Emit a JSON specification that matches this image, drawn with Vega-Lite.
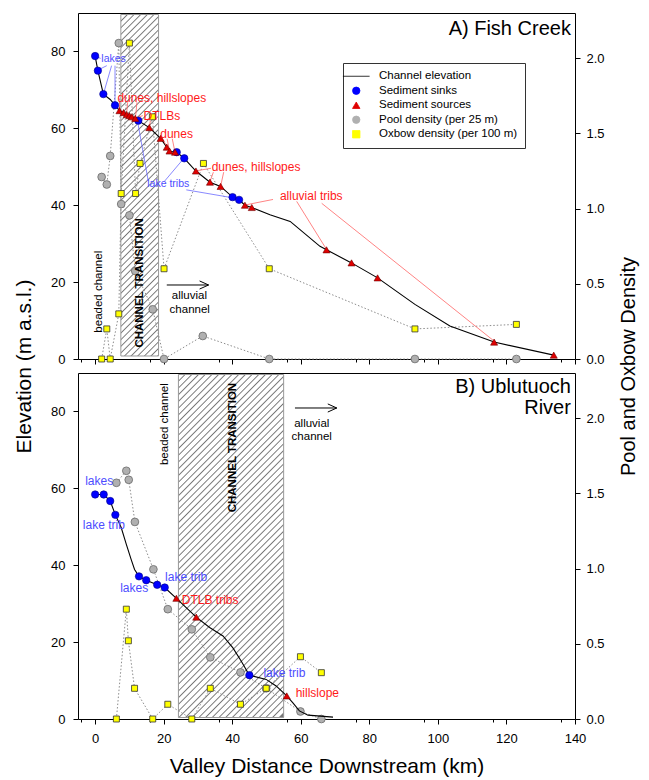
{
"$schema":"https://vega.github.io/schema/vega-lite/v6.json",
"background":"white",
"padding":{"left":13,"top":12,"right":5,"bottom":5},
"spacing":14,
"bounds":"flush",
"config":{"font":"Liberation Sans","view":{"stroke":"#000","strokeWidth":1},
 "axis":{"domain":false,"grid":false,"tickColor":"#000","labelColor":"#000","titleColor":"#000","labelFont":"Liberation Sans","titleFont":"Liberation Sans","labelFontSize":13,"titleFontWeight":"normal","tickWidth":1},
 "legend":{"strokeColor":"#333","strokeWidth":1,"fillColor":"white","padding":7.5}},
"resolve":{"scale":{"color":"independent","shape":"independent"},"legend":{"color":"independent","shape":"independent"}},
"vconcat":[
{"width":497,"height":346,
 "resolve":{"scale":{"y":"independent"},"axis":{"x":"independent"}},
 "layer":[
  {"layer":[
   {"data":{"values":[{"x":7.5,"x2":18.5,"d":0.02,"d2":2.29}]},
    "mark":{"type":"rect","stroke":"#999","strokeWidth":1,"fill":{"gradient":"linear","x1":0,"y1":0,"x2":0.1213,"y2":1.0972,"stops":[
{"offset":0,"color":"#777"},{"offset":0.0035,"color":"#fff"},{"offset":0.014,"color":"#fff"},
{"offset":0.0175,"color":"#777"},{"offset":0.021,"color":"#fff"},{"offset":0.0315,"color":"#fff"},
{"offset":0.035,"color":"#777"},{"offset":0.0385,"color":"#fff"},{"offset":0.049,"color":"#fff"},
{"offset":0.0525,"color":"#777"},{"offset":0.056,"color":"#fff"},{"offset":0.0665,"color":"#fff"},
{"offset":0.07,"color":"#777"},{"offset":0.0735,"color":"#fff"},{"offset":0.084,"color":"#fff"},
{"offset":0.0875,"color":"#777"},{"offset":0.091,"color":"#fff"},{"offset":0.1015,"color":"#fff"},
{"offset":0.105,"color":"#777"},{"offset":0.1085,"color":"#fff"},{"offset":0.119,"color":"#fff"},
{"offset":0.1225,"color":"#777"},{"offset":0.126,"color":"#fff"},{"offset":0.1365,"color":"#fff"},
{"offset":0.14,"color":"#777"},{"offset":0.1435,"color":"#fff"},{"offset":0.154,"color":"#fff"},
{"offset":0.1575,"color":"#777"},{"offset":0.161,"color":"#fff"},{"offset":0.1715,"color":"#fff"},
{"offset":0.175,"color":"#777"},{"offset":0.1785,"color":"#fff"},{"offset":0.189,"color":"#fff"},
{"offset":0.1925,"color":"#777"},{"offset":0.196,"color":"#fff"},{"offset":0.2065,"color":"#fff"},
{"offset":0.21,"color":"#777"},{"offset":0.2135,"color":"#fff"},{"offset":0.224,"color":"#fff"},
{"offset":0.2275,"color":"#777"},{"offset":0.231,"color":"#fff"},{"offset":0.2415,"color":"#fff"},
{"offset":0.245,"color":"#777"},{"offset":0.2485,"color":"#fff"},{"offset":0.259,"color":"#fff"},
{"offset":0.2625,"color":"#777"},{"offset":0.266,"color":"#fff"},{"offset":0.2765,"color":"#fff"},
{"offset":0.28,"color":"#777"},{"offset":0.2835,"color":"#fff"},{"offset":0.294,"color":"#fff"},
{"offset":0.2975,"color":"#777"},{"offset":0.301,"color":"#fff"},{"offset":0.3115,"color":"#fff"},
{"offset":0.315,"color":"#777"},{"offset":0.3185,"color":"#fff"},{"offset":0.329,"color":"#fff"},
{"offset":0.3325,"color":"#777"},{"offset":0.336,"color":"#fff"},{"offset":0.3465,"color":"#fff"},
{"offset":0.35,"color":"#777"},{"offset":0.3535,"color":"#fff"},{"offset":0.364,"color":"#fff"},
{"offset":0.3675,"color":"#777"},{"offset":0.371,"color":"#fff"},{"offset":0.3815,"color":"#fff"},
{"offset":0.385,"color":"#777"},{"offset":0.3885,"color":"#fff"},{"offset":0.399,"color":"#fff"},
{"offset":0.4025,"color":"#777"},{"offset":0.406,"color":"#fff"},{"offset":0.4165,"color":"#fff"},
{"offset":0.42,"color":"#777"},{"offset":0.4235,"color":"#fff"},{"offset":0.434,"color":"#fff"},
{"offset":0.4375,"color":"#777"},{"offset":0.441,"color":"#fff"},{"offset":0.4515,"color":"#fff"},
{"offset":0.455,"color":"#777"},{"offset":0.4585,"color":"#fff"},{"offset":0.469,"color":"#fff"},
{"offset":0.4725,"color":"#777"},{"offset":0.476,"color":"#fff"},{"offset":0.4865,"color":"#fff"},
{"offset":0.49,"color":"#777"},{"offset":0.4935,"color":"#fff"},{"offset":0.504,"color":"#fff"},
{"offset":0.5075,"color":"#777"},{"offset":0.511,"color":"#fff"},{"offset":0.5215,"color":"#fff"},
{"offset":0.525,"color":"#777"},{"offset":0.5285,"color":"#fff"},{"offset":0.539,"color":"#fff"},
{"offset":0.5425,"color":"#777"},{"offset":0.546,"color":"#fff"},{"offset":0.5565,"color":"#fff"},
{"offset":0.56,"color":"#777"},{"offset":0.5635,"color":"#fff"},{"offset":0.574,"color":"#fff"},
{"offset":0.5775,"color":"#777"},{"offset":0.581,"color":"#fff"},{"offset":0.5915,"color":"#fff"},
{"offset":0.595,"color":"#777"},{"offset":0.5985,"color":"#fff"},{"offset":0.609,"color":"#fff"},
{"offset":0.6125,"color":"#777"},{"offset":0.616,"color":"#fff"},{"offset":0.6265,"color":"#fff"},
{"offset":0.63,"color":"#777"},{"offset":0.6335,"color":"#fff"},{"offset":0.644,"color":"#fff"},
{"offset":0.6475,"color":"#777"},{"offset":0.651,"color":"#fff"},{"offset":0.6615,"color":"#fff"},
{"offset":0.665,"color":"#777"},{"offset":0.6685,"color":"#fff"},{"offset":0.679,"color":"#fff"},
{"offset":0.6825,"color":"#777"},{"offset":0.686,"color":"#fff"},{"offset":0.6965,"color":"#fff"},
{"offset":0.7,"color":"#777"},{"offset":0.7035,"color":"#fff"},{"offset":0.714,"color":"#fff"},
{"offset":0.7175,"color":"#777"},{"offset":0.721,"color":"#fff"},{"offset":0.7315,"color":"#fff"},
{"offset":0.735,"color":"#777"},{"offset":0.7385,"color":"#fff"},{"offset":0.749,"color":"#fff"},
{"offset":0.7525,"color":"#777"},{"offset":0.756,"color":"#fff"},{"offset":0.7665,"color":"#fff"},
{"offset":0.77,"color":"#777"},{"offset":0.7735,"color":"#fff"},{"offset":0.784,"color":"#fff"},
{"offset":0.7875,"color":"#777"},{"offset":0.791,"color":"#fff"},{"offset":0.8015,"color":"#fff"},
{"offset":0.805,"color":"#777"},{"offset":0.8085,"color":"#fff"},{"offset":0.819,"color":"#fff"},
{"offset":0.8225,"color":"#777"},{"offset":0.826,"color":"#fff"},{"offset":0.8365,"color":"#fff"},
{"offset":0.84,"color":"#777"},{"offset":0.8435,"color":"#fff"},{"offset":0.854,"color":"#fff"},
{"offset":0.8575,"color":"#777"},{"offset":0.861,"color":"#fff"},{"offset":0.8715,"color":"#fff"},
{"offset":0.875,"color":"#777"},{"offset":0.8785,"color":"#fff"},{"offset":0.889,"color":"#fff"},
{"offset":0.8925,"color":"#777"},{"offset":0.896,"color":"#fff"},{"offset":0.9065,"color":"#fff"},
{"offset":0.91,"color":"#777"},{"offset":0.9135,"color":"#fff"},{"offset":0.924,"color":"#fff"},
{"offset":0.9275,"color":"#777"},{"offset":0.931,"color":"#fff"},{"offset":0.9415,"color":"#fff"},
{"offset":0.945,"color":"#777"},{"offset":0.9485,"color":"#fff"},{"offset":0.959,"color":"#fff"},
{"offset":0.9625,"color":"#777"},{"offset":0.966,"color":"#fff"},{"offset":0.9765,"color":"#fff"},
{"offset":0.98,"color":"#777"},{"offset":0.9835,"color":"#fff"},{"offset":0.994,"color":"#fff"},
{"offset":0.9975,"color":"#777"}]}},
    "encoding":{
     "x":{"field":"x","type":"quantitative","scale":{"domain":[-5,140],"nice":false,"zero":false},
      "axis":{"orient":"bottom","values":[0,20,40,60,80,100,120,140],"labels":false,"title":null,"tickSize":5}},
     "x2":{"field":"x2"},
     "y":{"field":"d","type":"quantitative","scale":{"domain":[0,2.3],"nice":false,"zero":false},
      "axis":{"orient":"right","values":[0,0.5,1,1.5,2],"format":".1f","tickSize":5,"labelPadding":6,"labelFontSize":13,"title":"Pool and Oxbow Density","titleFontSize":20,"titleAngle":270,"titleBaseline":"top","titlePadding":14,"titleY":353}},
     "y2":{"field":"d2"}}},
   {"data":{"values":[{"x":1.9,"d":1.21},{"x":3.4,"d":1.16},{"x":4.4,"d":1.35},{"x":6.9,"d":2.1},{"x":7.6,"d":1.03},{"x":10,"d":0.955},{"x":11.7,"d":0.585},{"x":16.8,"d":0.33},{"x":20.1,"d":0},{"x":31.4,"d":0.153},{"x":50.8,"d":0},{"x":93.3,"d":0},{"x":122.9,"d":0}]},
    "mark":{"type":"line","stroke":"#8c8c8c","strokeWidth":1,"strokeDash":[1.5,2]},
    "encoding":{"x":{"field":"x","type":"quantitative"},"y":{"field":"d","type":"quantitative"}}},
   {"data":{"values":[{"x":1.9,"d":0},{"x":3.4,"d":0.2},{"x":4.4,"d":0},{"x":6.9,"d":0.3},{"x":7.6,"d":1.1},{"x":10,"d":2.1},{"x":11.8,"d":1.1},{"x":13.1,"d":1.3},{"x":16.7,"d":1.61},{"x":20.1,"d":0.6},{"x":31.6,"d":1.3},{"x":50.8,"d":0.6},{"x":93.3,"d":0.2},{"x":122.9,"d":0.23}]},
    "mark":{"type":"line","stroke":"#8c8c8c","strokeWidth":1,"strokeDash":[1.5,2]},
    "encoding":{"x":{"field":"x","type":"quantitative"},"y":{"field":"d","type":"quantitative"}}},
   {"data":{"values":[{"x":1.9,"d":1.21},{"x":3.4,"d":1.16},{"x":4.4,"d":1.35},{"x":6.9,"d":2.1},{"x":7.6,"d":1.03},{"x":10,"d":0.955},{"x":11.7,"d":0.585},{"x":16.8,"d":0.33},{"x":20.1,"d":0},{"x":31.4,"d":0.153},{"x":50.8,"d":0},{"x":93.3,"d":0},{"x":122.9,"d":0}]},
    "mark":{"type":"point","filled":true,"opacity":1,"size":60,"stroke":"#6a6a6a","strokeWidth":0.8},
    "encoding":{"x":{"field":"x","type":"quantitative"},"y":{"field":"d","type":"quantitative"},
     "color":{"datum":"Pool density (per 25 m)","type":"nominal","scale":{"domain":["Channel elevation","Sediment sinks","Sediment sources","Pool density (per 25 m)","Oxbow density (per 100 m)"],"range":["#000000","#0000ff","#e00000","#b0b0b0","#ffff00"]},
      "legend":{"orient":"top-right","offset":50,"title":null,"labelFontSize":11.5,"labelFont":"Liberation Sans","labelColor":"#000","padding":7.5,"strokeColor":"#333","fillColor":"white","symbolSize":55,"symbolStrokeColor":"#222","symbolStrokeWidth":0.8,"labelOffset":17,"rowPadding":1.5}},
     "shape":{"datum":"Pool density (per 25 m)","type":"nominal","scale":{"domain":["Channel elevation","Sediment sinks","Sediment sources","Pool density (per 25 m)","Oxbow density (per 100 m)"],"range":["M-3.6,0H3.6","circle","triangle-up","circle","square"]},
      "legend":{"orient":"top-right","offset":50,"title":null,"labelFontSize":11.5,"labelFont":"Liberation Sans","labelColor":"#000","padding":7.5,"strokeColor":"#333","fillColor":"white","symbolSize":55,"symbolStrokeColor":"#222","symbolStrokeWidth":0.8,"labelOffset":17,"rowPadding":1.5}}}},
   {"data":{"values":[{"x":1.9,"d":0},{"x":3.4,"d":0.2},{"x":4.4,"d":0},{"x":6.9,"d":0.3},{"x":7.6,"d":1.1},{"x":10,"d":2.1},{"x":11.8,"d":1.1},{"x":13.1,"d":1.3},{"x":16.7,"d":1.61},{"x":20.1,"d":0.6},{"x":31.6,"d":1.3},{"x":50.8,"d":0.6},{"x":93.3,"d":0.2},{"x":122.9,"d":0.23}]},
    "mark":{"type":"point","filled":true,"opacity":1,"size":36,"stroke":"#333","strokeWidth":0.8},
    "encoding":{"x":{"field":"x","type":"quantitative"},"y":{"field":"d","type":"quantitative"},
     "color":{"datum":"Oxbow density (per 100 m)","type":"nominal"},
     "shape":{"datum":"Oxbow density (per 100 m)","type":"nominal"}}}
  ]},
  {"layer":[
   {"data":{"values":[{"x":0,"y":78.8},{"x":0.8,"y":75},{"x":2.4,"y":68.9},{"x":4.4,"y":67.5},{"x":5.8,"y":66},{"x":7.1,"y":64.6},{"x":8.3,"y":64.1},{"x":9.2,"y":63.6},{"x":10,"y":63.3},{"x":10.7,"y":63},{"x":11.7,"y":62.6},{"x":12.6,"y":62},{"x":15.8,"y":60.2},{"x":19.1,"y":57.4},{"x":20.9,"y":55.1},{"x":21.7,"y":54.1},{"x":23.3,"y":53.8},{"x":23.8,"y":53.8},{"x":26,"y":52.2},{"x":29.4,"y":48.9},{"x":33.5,"y":46},{"x":36.6,"y":44.9},{"x":40.1,"y":42.1},{"x":42,"y":41.4},{"x":43.7,"y":40},{"x":45.7,"y":39.4},{"x":51,"y":37.5},{"x":56.9,"y":35.8},{"x":65.6,"y":29.3},{"x":67.5,"y":28.4},{"x":74.8,"y":25},{"x":82.4,"y":21.1},{"x":93.3,"y":14.2},{"x":103.5,"y":8.6},{"x":116.4,"y":4.4},{"x":133.8,"y":1}]},
    "mark":{"type":"line","strokeWidth":1.1},
    "encoding":{"x":{"field":"x","type":"quantitative",
      "axis":{"orient":"bottom","values":[-4,4,8,12,16,24,28,32,36,44,48,52,56,64,68,72,76,84,88,92,96,104,108,112,116,124,128,132,136],"labels":false,"title":null,"tickSize":3}},
     "y":{"field":"y","type":"quantitative","scale":{"domain":[0,90],"nice":false,"zero":false},
      "axis":{"orient":"left","values":[0,20,40,60,80],"tickSize":5,"labelPadding":8,"labelFontSize":13,"title":"Elevation (m a.s.l.)","titleFontSize":21,"titlePadding":16,"titleY":353}},
     "color":{"datum":"Channel elevation","type":"nominal"}}},
   {"data":{"values":[{"x":1.6,"y":78.2,"x2":0.3,"y2":78.7},{"x":3.4,"y":76.3,"x2":0.9,"y2":75.2},{"x":4.8,"y":76.3,"x2":2.5,"y2":69.2},{"x":5.8,"y":76.3,"x2":5.8,"y2":66.4},{"x":15.5,"y":46.3,"x2":12.4,"y2":61.7},{"x":20.2,"y":46.2,"x2":25.7,"y2":52},{"x":26.6,"y":44,"x2":39.7,"y2":42}]},
    "mark":{"type":"rule","stroke":"#6b6bff","strokeWidth":0.8},
    "encoding":{"x":{"field":"x","type":"quantitative"},"y":{"field":"y","type":"quantitative"},"x2":{"field":"x2"},"y2":{"field":"y2"}}},
   {"data":{"values":[{"x":7.1,"y":66.8,"x2":7.1,"y2":65},{"x":9.5,"y":66.8,"x2":9.2,"y2":64},{"x":12.2,"y":66.8,"x2":11.8,"y2":63},{"x":13.9,"y":63.3,"x2":12.1,"y2":62.8},{"x":16.1,"y":62,"x2":15.9,"y2":60.7},{"x":19.6,"y":57.3,"x2":20.8,"y2":55.5},{"x":21,"y":57.3,"x2":21.6,"y2":54.5},{"x":22.5,"y":57.3,"x2":23.2,"y2":54.2},{"x":33.8,"y":49.6,"x2":29.8,"y2":49},{"x":34.5,"y":48.6,"x2":33.6,"y2":46.4},{"x":37.5,"y":48.6,"x2":36.7,"y2":45.3},{"x":51.9,"y":41.5,"x2":44,"y2":40.1},{"x":58.8,"y":41,"x2":67.3,"y2":28.8},{"x":66.1,"y":40.5,"x2":116.2,"y2":4.8}]},
    "mark":{"type":"rule","stroke":"#ff6464","strokeWidth":0.8},
    "encoding":{"x":{"field":"x","type":"quantitative"},"y":{"field":"y","type":"quantitative"},"x2":{"field":"x2"},"y2":{"field":"y2"}}},
   {"data":{"values":[{"x":0,"y":78.8},{"x":0.8,"y":75},{"x":2.4,"y":68.9},{"x":5.8,"y":66},{"x":12.6,"y":62},{"x":23.8,"y":53.8},{"x":26,"y":52.2},{"x":40.1,"y":42.1},{"x":42,"y":41.4}]},
    "mark":{"type":"point","filled":true,"opacity":1,"size":55,"stroke":"#00008a","strokeWidth":0.6},
    "encoding":{"x":{"field":"x","type":"quantitative"},"y":{"field":"y","type":"quantitative"},
     "color":{"datum":"Sediment sinks","type":"nominal"},"shape":{"datum":"Sediment sinks","type":"nominal"}}},
   {"data":{"values":[{"x":7.1,"y":64.6},{"x":8.3,"y":64.1},{"x":9.2,"y":63.6},{"x":10,"y":63.3},{"x":10.7,"y":63},{"x":11.7,"y":62.6},{"x":15.8,"y":60.2},{"x":19.1,"y":57.4},{"x":20.9,"y":55.1},{"x":21.7,"y":54.1},{"x":23.3,"y":53.8},{"x":29.4,"y":48.9},{"x":33.5,"y":46},{"x":36.6,"y":44.9},{"x":43.7,"y":40},{"x":45.7,"y":39.4},{"x":67.5,"y":28.4},{"x":74.8,"y":25},{"x":82.4,"y":21.1},{"x":116.4,"y":4.4},{"x":133.8,"y":1}]},
    "mark":{"type":"point","filled":true,"opacity":1,"size":50,"stroke":"#700000","strokeWidth":0.6},
    "encoding":{"x":{"field":"x","type":"quantitative"},"y":{"field":"y","type":"quantitative"},
     "color":{"datum":"Sediment sources","type":"nominal"},"shape":{"datum":"Sediment sources","type":"nominal"}}},
   {"data":{"values":[{"x":1.8,"y":78,"t":"lakes"},{"x":15.2,"y":45.4,"t":"lake tribs"}]},
    "mark":{"type":"text","align":"left","baseline":"middle","fontSize":10.5,"color":"#4d4dff"},
    "encoding":{"x":{"field":"x","type":"quantitative"},"y":{"field":"y","type":"quantitative"},"text":{"field":"t"}}},
   {"data":{"values":[{"x":6.5,"y":68,"t":"dunes, hillslopes"},{"x":14.1,"y":63.3,"t":"DTLBs"},{"x":19,"y":58.6,"t":"dunes"},{"x":34,"y":50,"t":"dunes, hillslopes"},{"x":53.9,"y":42.5,"t":"alluvial tribs"}]},
    "mark":{"type":"text","align":"left","baseline":"middle","fontSize":12,"color":"#ff1a1a"},
    "encoding":{"x":{"field":"x","type":"quantitative"},"y":{"field":"y","type":"quantitative"},"text":{"field":"t"}}},
   {"data":{"values":[{"x":1.2,"y":17.5,"t":"beaded channel"}]},
    "mark":{"type":"text","angle":270,"align":"center","baseline":"middle","fontSize":11.5,"color":"#000"},
    "encoding":{"x":{"field":"x","type":"quantitative"},"y":{"field":"y","type":"quantitative"},"text":{"field":"t"}}},
   {"data":{"values":[{"x":13.1,"y":19.8,"t":"CHANNEL TRANSITION"}]},
    "mark":{"type":"text","angle":270,"align":"center","baseline":"middle","fontSize":11.5,"fontWeight":"bold","color":"#000"},
    "encoding":{"x":{"field":"x","type":"quantitative"},"y":{"field":"y","type":"quantitative"},"text":{"field":"t"}}},
   {"data":{"values":[{"x":27.5,"y":16.3,"t":"alluvial"},{"x":27.6,"y":12.8,"t":"channel"}]},
    "mark":{"type":"text","align":"center","baseline":"middle","fontSize":11.5,"color":"#000"},
    "encoding":{"x":{"field":"x","type":"quantitative"},"y":{"field":"y","type":"quantitative"},"text":{"field":"t"}}},
   {"data":{"values":[{"x":138.8,"y":84.3,"t":"A) Fish Creek"}]},
    "mark":{"type":"text","align":"right","baseline":"alphabetic","fontSize":20,"color":"#000"},
    "encoding":{"x":{"field":"x","type":"quantitative"},"y":{"field":"y","type":"quantitative"},"text":{"field":"t"}}},
   {"data":{"values":[{"x":20.9,"x2":33.1,"y":19.25}]},
    "mark":{"type":"rule","stroke":"#000","strokeWidth":1},
    "encoding":{"x":{"field":"x","type":"quantitative"},"x2":{"field":"x2"},"y":{"field":"y","type":"quantitative"}}},
   {"data":{"values":[{"x":20.9,"x2":33.1,"y":19.25}]},
    "mark":{"type":"point","shape":"M-1,-0.45L0,0L-1,0.45","filled":false,"opacity":1,"size":324,"stroke":"#000","strokeWidth":1},
    "encoding":{"x":{"field":"x2","type":"quantitative"},"y":{"field":"y","type":"quantitative"}}}
  ]}
 ]},
{"width":497,"height":346,
 "resolve":{"scale":{"y":"independent"},"axis":{"x":"independent"}},
 "layer":[
  {"layer":[
   {"data":{"values":[{"x":24.3,"x2":55,"d":0.01,"d2":2.29}]},
    "mark":{"type":"rect","stroke":"#999","strokeWidth":1,"fill":{"gradient":"linear","x1":0,"y1":0,"x2":0.3686,"y2":1.1948,"stops":[
{"offset":0,"color":"#777"},{"offset":0.003,"color":"#fff"},{"offset":0.012,"color":"#fff"},
{"offset":0.015,"color":"#777"},{"offset":0.018,"color":"#fff"},{"offset":0.027,"color":"#fff"},
{"offset":0.03,"color":"#777"},{"offset":0.033,"color":"#fff"},{"offset":0.042,"color":"#fff"},
{"offset":0.045,"color":"#777"},{"offset":0.048,"color":"#fff"},{"offset":0.057,"color":"#fff"},
{"offset":0.06,"color":"#777"},{"offset":0.063,"color":"#fff"},{"offset":0.072,"color":"#fff"},
{"offset":0.075,"color":"#777"},{"offset":0.078,"color":"#fff"},{"offset":0.087,"color":"#fff"},
{"offset":0.09,"color":"#777"},{"offset":0.093,"color":"#fff"},{"offset":0.102,"color":"#fff"},
{"offset":0.105,"color":"#777"},{"offset":0.108,"color":"#fff"},{"offset":0.117,"color":"#fff"},
{"offset":0.12,"color":"#777"},{"offset":0.123,"color":"#fff"},{"offset":0.132,"color":"#fff"},
{"offset":0.135,"color":"#777"},{"offset":0.138,"color":"#fff"},{"offset":0.147,"color":"#fff"},
{"offset":0.15,"color":"#777"},{"offset":0.153,"color":"#fff"},{"offset":0.162,"color":"#fff"},
{"offset":0.165,"color":"#777"},{"offset":0.168,"color":"#fff"},{"offset":0.177,"color":"#fff"},
{"offset":0.18,"color":"#777"},{"offset":0.183,"color":"#fff"},{"offset":0.192,"color":"#fff"},
{"offset":0.195,"color":"#777"},{"offset":0.198,"color":"#fff"},{"offset":0.207,"color":"#fff"},
{"offset":0.21,"color":"#777"},{"offset":0.213,"color":"#fff"},{"offset":0.222,"color":"#fff"},
{"offset":0.225,"color":"#777"},{"offset":0.228,"color":"#fff"},{"offset":0.237,"color":"#fff"},
{"offset":0.24,"color":"#777"},{"offset":0.243,"color":"#fff"},{"offset":0.252,"color":"#fff"},
{"offset":0.255,"color":"#777"},{"offset":0.258,"color":"#fff"},{"offset":0.267,"color":"#fff"},
{"offset":0.27,"color":"#777"},{"offset":0.273,"color":"#fff"},{"offset":0.282,"color":"#fff"},
{"offset":0.285,"color":"#777"},{"offset":0.288,"color":"#fff"},{"offset":0.297,"color":"#fff"},
{"offset":0.3,"color":"#777"},{"offset":0.303,"color":"#fff"},{"offset":0.312,"color":"#fff"},
{"offset":0.315,"color":"#777"},{"offset":0.318,"color":"#fff"},{"offset":0.327,"color":"#fff"},
{"offset":0.33,"color":"#777"},{"offset":0.333,"color":"#fff"},{"offset":0.342,"color":"#fff"},
{"offset":0.345,"color":"#777"},{"offset":0.348,"color":"#fff"},{"offset":0.357,"color":"#fff"},
{"offset":0.36,"color":"#777"},{"offset":0.363,"color":"#fff"},{"offset":0.372,"color":"#fff"},
{"offset":0.375,"color":"#777"},{"offset":0.378,"color":"#fff"},{"offset":0.387,"color":"#fff"},
{"offset":0.39,"color":"#777"},{"offset":0.393,"color":"#fff"},{"offset":0.402,"color":"#fff"},
{"offset":0.405,"color":"#777"},{"offset":0.408,"color":"#fff"},{"offset":0.417,"color":"#fff"},
{"offset":0.42,"color":"#777"},{"offset":0.423,"color":"#fff"},{"offset":0.432,"color":"#fff"},
{"offset":0.435,"color":"#777"},{"offset":0.438,"color":"#fff"},{"offset":0.447,"color":"#fff"},
{"offset":0.45,"color":"#777"},{"offset":0.453,"color":"#fff"},{"offset":0.462,"color":"#fff"},
{"offset":0.465,"color":"#777"},{"offset":0.468,"color":"#fff"},{"offset":0.477,"color":"#fff"},
{"offset":0.48,"color":"#777"},{"offset":0.483,"color":"#fff"},{"offset":0.492,"color":"#fff"},
{"offset":0.495,"color":"#777"},{"offset":0.498,"color":"#fff"},{"offset":0.507,"color":"#fff"},
{"offset":0.51,"color":"#777"},{"offset":0.513,"color":"#fff"},{"offset":0.522,"color":"#fff"},
{"offset":0.525,"color":"#777"},{"offset":0.528,"color":"#fff"},{"offset":0.537,"color":"#fff"},
{"offset":0.54,"color":"#777"},{"offset":0.543,"color":"#fff"},{"offset":0.552,"color":"#fff"},
{"offset":0.555,"color":"#777"},{"offset":0.558,"color":"#fff"},{"offset":0.567,"color":"#fff"},
{"offset":0.57,"color":"#777"},{"offset":0.573,"color":"#fff"},{"offset":0.582,"color":"#fff"},
{"offset":0.585,"color":"#777"},{"offset":0.588,"color":"#fff"},{"offset":0.597,"color":"#fff"},
{"offset":0.6,"color":"#777"},{"offset":0.603,"color":"#fff"},{"offset":0.612,"color":"#fff"},
{"offset":0.615,"color":"#777"},{"offset":0.618,"color":"#fff"},{"offset":0.627,"color":"#fff"},
{"offset":0.63,"color":"#777"},{"offset":0.633,"color":"#fff"},{"offset":0.642,"color":"#fff"},
{"offset":0.645,"color":"#777"},{"offset":0.648,"color":"#fff"},{"offset":0.657,"color":"#fff"},
{"offset":0.66,"color":"#777"},{"offset":0.663,"color":"#fff"},{"offset":0.672,"color":"#fff"},
{"offset":0.675,"color":"#777"},{"offset":0.678,"color":"#fff"},{"offset":0.687,"color":"#fff"},
{"offset":0.69,"color":"#777"},{"offset":0.693,"color":"#fff"},{"offset":0.702,"color":"#fff"},
{"offset":0.705,"color":"#777"},{"offset":0.708,"color":"#fff"},{"offset":0.717,"color":"#fff"},
{"offset":0.72,"color":"#777"},{"offset":0.723,"color":"#fff"},{"offset":0.732,"color":"#fff"},
{"offset":0.735,"color":"#777"},{"offset":0.738,"color":"#fff"},{"offset":0.747,"color":"#fff"},
{"offset":0.75,"color":"#777"},{"offset":0.753,"color":"#fff"},{"offset":0.762,"color":"#fff"},
{"offset":0.765,"color":"#777"},{"offset":0.768,"color":"#fff"},{"offset":0.777,"color":"#fff"},
{"offset":0.78,"color":"#777"},{"offset":0.783,"color":"#fff"},{"offset":0.792,"color":"#fff"},
{"offset":0.795,"color":"#777"},{"offset":0.798,"color":"#fff"},{"offset":0.807,"color":"#fff"},
{"offset":0.81,"color":"#777"},{"offset":0.813,"color":"#fff"},{"offset":0.822,"color":"#fff"},
{"offset":0.825,"color":"#777"},{"offset":0.828,"color":"#fff"},{"offset":0.837,"color":"#fff"},
{"offset":0.84,"color":"#777"},{"offset":0.843,"color":"#fff"},{"offset":0.852,"color":"#fff"},
{"offset":0.855,"color":"#777"},{"offset":0.858,"color":"#fff"},{"offset":0.867,"color":"#fff"},
{"offset":0.87,"color":"#777"},{"offset":0.873,"color":"#fff"},{"offset":0.882,"color":"#fff"},
{"offset":0.885,"color":"#777"},{"offset":0.888,"color":"#fff"},{"offset":0.897,"color":"#fff"},
{"offset":0.9,"color":"#777"},{"offset":0.903,"color":"#fff"},{"offset":0.912,"color":"#fff"},
{"offset":0.915,"color":"#777"},{"offset":0.918,"color":"#fff"},{"offset":0.927,"color":"#fff"},
{"offset":0.93,"color":"#777"},{"offset":0.933,"color":"#fff"},{"offset":0.942,"color":"#fff"},
{"offset":0.945,"color":"#777"},{"offset":0.948,"color":"#fff"},{"offset":0.957,"color":"#fff"},
{"offset":0.96,"color":"#777"},{"offset":0.963,"color":"#fff"},{"offset":0.972,"color":"#fff"},
{"offset":0.975,"color":"#777"},{"offset":0.978,"color":"#fff"},{"offset":0.987,"color":"#fff"},
{"offset":0.99,"color":"#777"}]}},
    "encoding":{
     "x":{"field":"x","type":"quantitative","scale":{"domain":[-5,140],"nice":false,"zero":false},
      "axis":{"orient":"bottom","values":[0,20,40,60,80,100,120,140],"format":"d","labelOverlap":false,"labelFlush":false,"labelPadding":8,"labelFontSize":13,"title":"Valley Distance Downstream (km)","titleFontSize":21,"titlePadding":10,"tickSize":5}},
     "x2":{"field":"x2"},
     "y":{"field":"d","type":"quantitative","scale":{"domain":[0,2.3],"nice":false,"zero":false},
      "axis":{"orient":"right","values":[0,0.5,1,1.5,2],"format":".1f","tickSize":5,"labelPadding":6,"labelFontSize":13,"title":null}},
     "y2":{"field":"d2"}}},
   {"data":{"values":[{"x":6.2,"d":1.57},{"x":9.1,"d":1.65},{"x":9.8,"d":1.59},{"x":11.6,"d":1.31},{"x":17,"d":0.995},{"x":21.2,"d":0.73},{"x":28.2,"d":0.596},{"x":33.6,"d":0.41},{"x":42.4,"d":0.31},{"x":49.9,"d":0.204},{"x":59.9,"d":0.05},{"x":66,"d":0}]},
    "mark":{"type":"line","stroke":"#8c8c8c","strokeWidth":1,"strokeDash":[1.5,2]},
    "encoding":{"x":{"field":"x","type":"quantitative"},"y":{"field":"d","type":"quantitative"}}},
   {"data":{"values":[{"x":6.2,"d":0},{"x":9.1,"d":0.73},{"x":9.7,"d":0.52},{"x":11.5,"d":0.204},{"x":16.8,"d":0},{"x":21.2,"d":0.098},{"x":28.2,"d":0},{"x":33.6,"d":0.204},{"x":42.4,"d":0.098},{"x":49.9,"d":0.204},{"x":59.9,"d":0.414},{"x":66,"d":0.308}]},
    "mark":{"type":"line","stroke":"#8c8c8c","strokeWidth":1,"strokeDash":[1.5,2]},
    "encoding":{"x":{"field":"x","type":"quantitative"},"y":{"field":"d","type":"quantitative"}}},
   {"data":{"values":[{"x":6.2,"d":1.57},{"x":9.1,"d":1.65},{"x":9.8,"d":1.59},{"x":11.6,"d":1.31},{"x":17,"d":0.995},{"x":21.2,"d":0.73},{"x":28.2,"d":0.596},{"x":33.6,"d":0.41},{"x":42.4,"d":0.31},{"x":49.9,"d":0.204},{"x":59.9,"d":0.05},{"x":66,"d":0}]},
    "mark":{"type":"point","shape":"circle","filled":true,"opacity":1,"size":60,"fill":"#b0b0b0","stroke":"#6a6a6a","strokeWidth":0.8},
    "encoding":{"x":{"field":"x","type":"quantitative"},"y":{"field":"d","type":"quantitative"}}},
   {"data":{"values":[{"x":6.2,"d":0},{"x":9.1,"d":0.73},{"x":9.7,"d":0.52},{"x":11.5,"d":0.204},{"x":16.8,"d":0},{"x":21.2,"d":0.098},{"x":28.2,"d":0},{"x":33.6,"d":0.204},{"x":42.4,"d":0.098},{"x":49.9,"d":0.204},{"x":59.9,"d":0.414},{"x":66,"d":0.308}]},
    "mark":{"type":"point","shape":"square","filled":true,"opacity":1,"size":36,"fill":"#ffff00","stroke":"#333","strokeWidth":0.8},
    "encoding":{"x":{"field":"x","type":"quantitative"},"y":{"field":"d","type":"quantitative"}}}
  ]},
  {"layer":[
   {"data":{"values":[{"x":0,"y":58.4},{"x":2.5,"y":58.4},{"x":4.4,"y":56.7},{"x":5.9,"y":53.1},{"x":7.6,"y":49.8},{"x":9.1,"y":45.4},{"x":10.5,"y":41.5},{"x":11.5,"y":38.9},{"x":12.8,"y":37.1},{"x":14.9,"y":36.1},{"x":18.1,"y":34.9},{"x":20.3,"y":34.2},{"x":23.7,"y":31.4},{"x":29.5,"y":26.5},{"x":33.4,"y":23.8},{"x":37.3,"y":21.6},{"x":40.2,"y":18.5},{"x":42.6,"y":15.1},{"x":45,"y":11.4},{"x":49.9,"y":10.3},{"x":52.8,"y":8.6},{"x":55.9,"y":6},{"x":57.7,"y":4.2},{"x":59.6,"y":2.1},{"x":62.1,"y":1},{"x":69.4,"y":0.5}]},
    "mark":{"type":"line","stroke":"#000","strokeWidth":1.1},
    "encoding":{"x":{"field":"x","type":"quantitative",
      "axis":{"orient":"bottom","values":[-4,4,8,12,16,24,28,32,36,44,48,52,56,64,68,72,76,84,88,92,96,104,108,112,116,124,128,132,136],"labels":false,"title":null,"tickSize":3}},
     "y":{"field":"y","type":"quantitative","scale":{"domain":[0,90],"nice":false,"zero":false},
      "axis":{"orient":"left","values":[0,20,40,60,80],"tickSize":5,"labelPadding":8,"labelFontSize":13,"title":null}}}},
   {"data":{"values":[{"x":0,"y":58.4},{"x":2.5,"y":58.4},{"x":4.4,"y":56.7},{"x":5.9,"y":53.1},{"x":12.8,"y":37.1},{"x":14.9,"y":36.1},{"x":18.1,"y":34.9},{"x":20.3,"y":34.2},{"x":45,"y":11.4}]},
    "mark":{"type":"point","shape":"circle","filled":true,"opacity":1,"size":55,"fill":"#0000ff","stroke":"#00008a","strokeWidth":0.6},
    "encoding":{"x":{"field":"x","type":"quantitative"},"y":{"field":"y","type":"quantitative"}}},
   {"data":{"values":[{"x":23.7,"y":31.4},{"x":29.5,"y":26.5},{"x":55.9,"y":6}]},
    "mark":{"type":"point","shape":"triangle-up","filled":true,"opacity":1,"size":50,"fill":"#e00000","stroke":"#700000","strokeWidth":0.6},
    "encoding":{"x":{"field":"x","type":"quantitative"},"y":{"field":"y","type":"quantitative"}}},
   {"data":{"values":[{"x":-2.9,"y":61.8,"t":"lakes"},{"x":-3.6,"y":50.4,"t":"lake trib"},{"x":7.3,"y":34.1,"t":"lakes"},{"x":20.4,"y":37,"t":"lake trib"},{"x":49.1,"y":11.9,"t":"lake trib"}]},
    "mark":{"type":"text","align":"left","baseline":"middle","fontSize":12,"color":"#4d4dff"},
    "encoding":{"x":{"field":"x","type":"quantitative"},"y":{"field":"y","type":"quantitative"},"text":{"field":"t"}}},
   {"data":{"values":[{"x":25.3,"y":30.9,"t":"DTLB tribs"},{"x":58.5,"y":6.7,"t":"hillslope"}]},
    "mark":{"type":"text","align":"left","baseline":"middle","fontSize":12,"color":"#ff1a1a"},
    "encoding":{"x":{"field":"x","type":"quantitative"},"y":{"field":"y","type":"quantitative"},"text":{"field":"t"}}},
   {"data":{"values":[{"x":20.3,"y":76.7,"t":"beaded channel"}]},
    "mark":{"type":"text","angle":270,"align":"center","baseline":"middle","fontSize":11.5,"color":"#000"},
    "encoding":{"x":{"field":"x","type":"quantitative"},"y":{"field":"y","type":"quantitative"},"text":{"field":"t"}}},
   {"data":{"values":[{"x":40.1,"y":70.6,"t":"CHANNEL TRANSITION"}]},
    "mark":{"type":"text","angle":270,"align":"center","baseline":"middle","fontSize":11.5,"fontWeight":"bold","color":"#000"},
    "encoding":{"x":{"field":"x","type":"quantitative"},"y":{"field":"y","type":"quantitative"},"text":{"field":"t"}}},
   {"data":{"values":[{"x":63.2,"y":76.7,"t":"alluvial"},{"x":63.2,"y":73.3,"t":"channel"}]},
    "mark":{"type":"text","align":"center","baseline":"middle","fontSize":11.5,"color":"#000"},
    "encoding":{"x":{"field":"x","type":"quantitative"},"y":{"field":"y","type":"quantitative"},"text":{"field":"t"}}},
   {"data":{"values":[{"x":138.8,"y":84.8,"t":"B) Ublutuoch"},{"x":138.8,"y":79.3,"t":"River"}]},
    "mark":{"type":"text","align":"right","baseline":"alphabetic","fontSize":20,"color":"#000"},
    "encoding":{"x":{"field":"x","type":"quantitative"},"y":{"field":"y","type":"quantitative"},"text":{"field":"t"}}},
   {"data":{"values":[{"x":58.3,"x2":70.5,"y":80.9}]},
    "mark":{"type":"rule","stroke":"#000","strokeWidth":1},
    "encoding":{"x":{"field":"x","type":"quantitative"},"x2":{"field":"x2"},"y":{"field":"y","type":"quantitative"}}},
   {"data":{"values":[{"x":58.3,"x2":70.5,"y":80.9}]},
    "mark":{"type":"point","shape":"M-1,-0.45L0,0L-1,0.45","filled":false,"opacity":1,"size":324,"stroke":"#000","strokeWidth":1},
    "encoding":{"x":{"field":"x2","type":"quantitative"},"y":{"field":"y","type":"quantitative"}}}
  ]}
 ]}
]}
